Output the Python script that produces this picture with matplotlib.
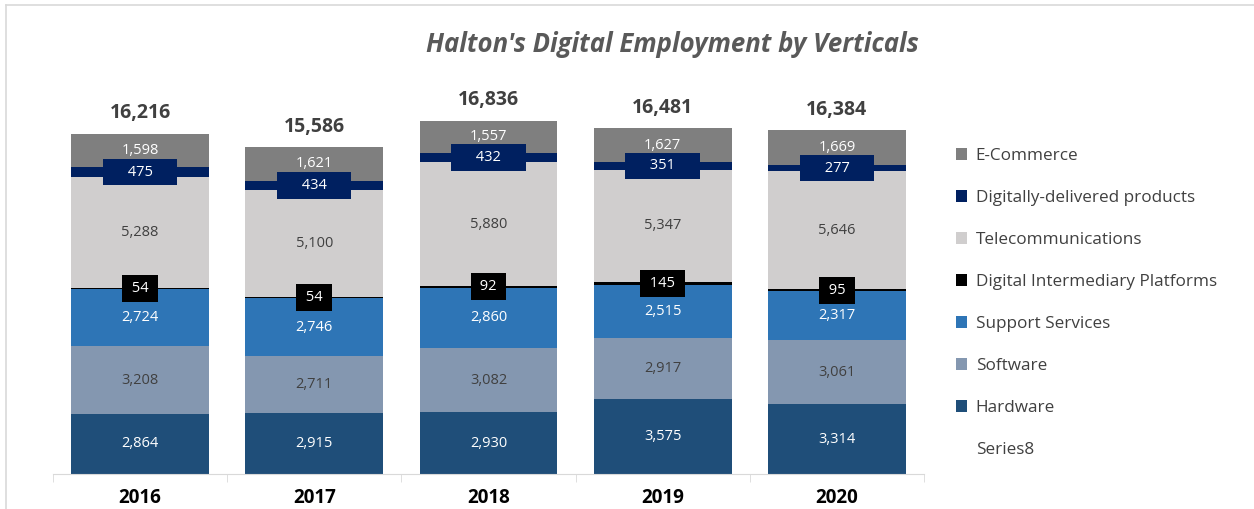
import numpy as np
import matplotlib.pyplot as plt
from matplotlib.patches import Patch
from matplotlib.lines import Line2D

plt.rcParams['font.family'] = ['Open Sans', 'DejaVu Sans']

years = ["2016", "2017", "2018", "2019", "2020"]
hardware = [2864, 2915, 2930, 3575, 3314]
software = [3208, 2711, 3082, 2917, 3061]
support = [2724, 2746, 2860, 2515, 2317]
platforms = [54, 54, 92, 145, 95]
telecom = [5288, 5100, 5880, 5347, 5646]
digital = [475, 434, 432, 351, 277]
ecommerce = [1598, 1621, 1557, 1627, 1669]
totals = [16216, 15586, 16836, 16481, 16384]

# name, values, fill, label colour, label box colour, box padding text
series = [
    ("Hardware", hardware, "#1f4e79", "white", None, ""),
    ("Software", software, "#8497b0", "#404040", None, ""),
    ("Support Services", support, "#2e75b6", "white", None, ""),
    ("Digital Intermediary Platforms", platforms, "#000000", "white", "#000000", " "),
    ("Telecommunications", telecom, "#d0cece", "#404040", None, ""),
    ("Digitally-delivered products", digital, "#002060", "white", "#002060", "     "),
    ("E-Commerce", ecommerce, "#7f7f7f", "white", None, ""),
]

fig = plt.figure(figsize=(12.54, 5.09), dpi=100)
ax = fig.add_axes([53 / 1254, 35 / 509, 871 / 1254, 384 / 509])

x = np.arange(len(years))
bottom = np.zeros(len(years))
for name, vals, col, tcol, boxcol, padtxt in series:
    vals = np.array(vals, dtype=float)
    ax.bar(x, vals, 0.79, bottom=bottom, color=col, edgecolor="none")
    for xi, b, v in zip(x, bottom, vals):
        lab = padtxt + f"{int(v):,}" + padtxt
        if boxcol is not None:
            ax.text(xi, b + v / 2, lab, ha="center", va="center", fontsize=10.5, color=tcol,
                    bbox=dict(boxstyle="square,pad=0.4", fc=boxcol, ec="none"))
        else:
            ax.text(xi, b + v / 2, lab, ha="center", va="center", fontsize=10.5, color=tcol)
    bottom += vals

for xi, tot in zip(x, totals):
    ax.annotate(f"{tot:,}", (xi, tot), xytext=(0, 14.5), textcoords="offset points",
                ha="center", va="center", fontsize=14, fontweight="bold", color="#404040")

ax.set_xlim(-0.5, len(years) - 0.5)
ax.set_ylim(0, 18286)
ax.set_yticks([])
for s in ["top", "right", "left"]:
    ax.spines[s].set_visible(False)
ax.spines["bottom"].set_color("#d9d9d9")
ax.set_xticks(x)
ax.set_xticklabels(years, fontsize=13.5, fontweight="bold", color="black")
ax.set_xticks(np.arange(-0.5, len(years)), minor=True)
ax.tick_params(axis="x", which="major", length=0, pad=10)
ax.tick_params(axis="x", which="minor", length=6, color="#d9d9d9")

fig.text(0.536, 0.912, "Halton's Digital Employment by Verticals", ha="center", va="center",
         fontsize=18.5, fontweight="bold", style="italic", color="#595959")

handles = [Patch(facecolor=s[2], edgecolor="none") for s in reversed(series)]
labels = [s[0] for s in reversed(series)]
handles.append(Patch(facecolor="none", edgecolor="none"))
labels.append("Series8")
fig.legend(handles, labels, loc="upper left", bbox_to_anchor=(956 / 1254, 1 - 148 / 509),
           frameon=False, fontsize=12.3, labelcolor="#404040", handlelength=0.65, handleheight=0.65,
           handletextpad=0.5, labelspacing=1.52, borderaxespad=0, borderpad=0)

# outer chart border
fig.add_artist(Line2D([6 / 1254, 6 / 1254], [0, 1 - 5 / 509], transform=fig.transFigure, color="#d9d9d9", lw=1.2))
fig.add_artist(Line2D([6 / 1254, 1], [1 - 5 / 509, 1 - 5 / 509], transform=fig.transFigure, color="#d9d9d9", lw=1.2))

fig.savefig("out.png", dpi=100)
